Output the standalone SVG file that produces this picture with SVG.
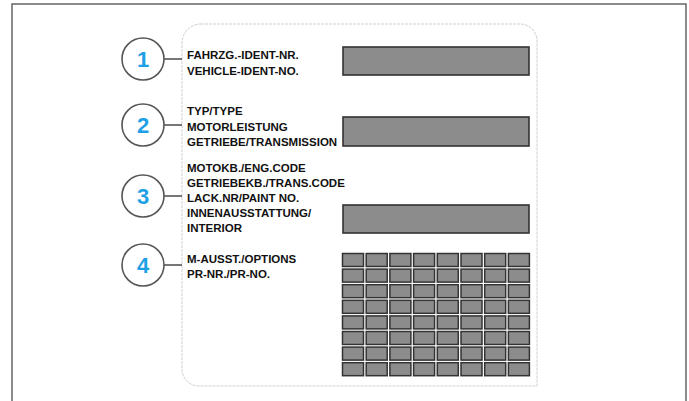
<svg xmlns="http://www.w3.org/2000/svg" width="689" height="401" viewBox="0 0 689 401">
<defs>
<style>
.frame{fill:none;stroke:#666;stroke-width:1.5}
.card{fill:#fff;stroke:#cfcfcf;stroke-width:1;stroke-dasharray:3 1}
.bar{fill:#8c8c8c;stroke:#333;stroke-width:1.6}
.cell{fill:#8c8c8c;stroke:#333;stroke-width:1.5}
.circ{fill:#fff;stroke:#555;stroke-width:1.6}
.conn{stroke:#555;stroke-width:1.6;fill:none}
.num{font-family:"Liberation Sans",Arial,sans-serif;font-weight:bold;font-size:22px;fill:#1ea0e6;text-anchor:middle}
.lbl{font-family:"Liberation Sans",Arial,sans-serif;font-weight:bold;font-size:11.5px;fill:#111}
</style>
</defs>
<rect width="689" height="401" fill="#fff"/>
<path class="frame" d="M12,401 V4 H686 V401"/>
<path class="card" d="M201,24 H520 A17,17 0 0 1 537,41 V386 H199 A17,17 0 0 1 182,369 V43 A19,19 0 0 1 201,24 Z"/>
<g id="fields">
<rect class="bar" x="343" y="47" width="186" height="28"/>
<rect class="bar" x="343" y="117" width="186" height="29"/>
<rect class="bar" x="343" y="205" width="186" height="28"/>
</g>
<g id="grid">
<rect class="cell" x="342.5" y="253.5" width="21" height="13"/><rect class="cell" x="366.2" y="253.5" width="21" height="13"/><rect class="cell" x="389.9" y="253.5" width="21" height="13"/><rect class="cell" x="413.6" y="253.5" width="21" height="13"/><rect class="cell" x="437.3" y="253.5" width="21" height="13"/><rect class="cell" x="461" y="253.5" width="21" height="13"/><rect class="cell" x="484.7" y="253.5" width="21" height="13"/><rect class="cell" x="508.4" y="253.5" width="21" height="13"/>
<rect class="cell" x="342.5" y="269.1" width="21" height="13"/><rect class="cell" x="366.2" y="269.1" width="21" height="13"/><rect class="cell" x="389.9" y="269.1" width="21" height="13"/><rect class="cell" x="413.6" y="269.1" width="21" height="13"/><rect class="cell" x="437.3" y="269.1" width="21" height="13"/><rect class="cell" x="461" y="269.1" width="21" height="13"/><rect class="cell" x="484.7" y="269.1" width="21" height="13"/><rect class="cell" x="508.4" y="269.1" width="21" height="13"/>
<rect class="cell" x="342.5" y="284.7" width="21" height="13"/><rect class="cell" x="366.2" y="284.7" width="21" height="13"/><rect class="cell" x="389.9" y="284.7" width="21" height="13"/><rect class="cell" x="413.6" y="284.7" width="21" height="13"/><rect class="cell" x="437.3" y="284.7" width="21" height="13"/><rect class="cell" x="461" y="284.7" width="21" height="13"/><rect class="cell" x="484.7" y="284.7" width="21" height="13"/><rect class="cell" x="508.4" y="284.7" width="21" height="13"/>
<rect class="cell" x="342.5" y="300.3" width="21" height="13"/><rect class="cell" x="366.2" y="300.3" width="21" height="13"/><rect class="cell" x="389.9" y="300.3" width="21" height="13"/><rect class="cell" x="413.6" y="300.3" width="21" height="13"/><rect class="cell" x="437.3" y="300.3" width="21" height="13"/><rect class="cell" x="461" y="300.3" width="21" height="13"/><rect class="cell" x="484.7" y="300.3" width="21" height="13"/><rect class="cell" x="508.4" y="300.3" width="21" height="13"/>
<rect class="cell" x="342.5" y="315.9" width="21" height="13"/><rect class="cell" x="366.2" y="315.9" width="21" height="13"/><rect class="cell" x="389.9" y="315.9" width="21" height="13"/><rect class="cell" x="413.6" y="315.9" width="21" height="13"/><rect class="cell" x="437.3" y="315.9" width="21" height="13"/><rect class="cell" x="461" y="315.9" width="21" height="13"/><rect class="cell" x="484.7" y="315.9" width="21" height="13"/><rect class="cell" x="508.4" y="315.9" width="21" height="13"/>
<rect class="cell" x="342.5" y="331.5" width="21" height="13"/><rect class="cell" x="366.2" y="331.5" width="21" height="13"/><rect class="cell" x="389.9" y="331.5" width="21" height="13"/><rect class="cell" x="413.6" y="331.5" width="21" height="13"/><rect class="cell" x="437.3" y="331.5" width="21" height="13"/><rect class="cell" x="461" y="331.5" width="21" height="13"/><rect class="cell" x="484.7" y="331.5" width="21" height="13"/><rect class="cell" x="508.4" y="331.5" width="21" height="13"/>
<rect class="cell" x="342.5" y="347.1" width="21" height="13"/><rect class="cell" x="366.2" y="347.1" width="21" height="13"/><rect class="cell" x="389.9" y="347.1" width="21" height="13"/><rect class="cell" x="413.6" y="347.1" width="21" height="13"/><rect class="cell" x="437.3" y="347.1" width="21" height="13"/><rect class="cell" x="461" y="347.1" width="21" height="13"/><rect class="cell" x="484.7" y="347.1" width="21" height="13"/><rect class="cell" x="508.4" y="347.1" width="21" height="13"/>
<rect class="cell" x="342.5" y="362.7" width="21" height="13"/><rect class="cell" x="366.2" y="362.7" width="21" height="13"/><rect class="cell" x="389.9" y="362.7" width="21" height="13"/><rect class="cell" x="413.6" y="362.7" width="21" height="13"/><rect class="cell" x="437.3" y="362.7" width="21" height="13"/><rect class="cell" x="461" y="362.7" width="21" height="13"/><rect class="cell" x="484.7" y="362.7" width="21" height="13"/><rect class="cell" x="508.4" y="362.7" width="21" height="13"/>
</g>
<g id="connectors">
<line class="conn" x1="164" y1="59" x2="182" y2="59"/>
<line class="conn" x1="164" y1="125" x2="182" y2="125"/>
<line class="conn" x1="164" y1="196" x2="182" y2="196"/>
<line class="conn" x1="164" y1="265" x2="182" y2="265"/>
</g>
<g id="node1">
<circle class="circ" cx="143" cy="59" r="21"/>
<text class="num" x="143" y="67">1</text>
<text class="lbl" x="187" y="59">FAHRZG.-IDENT-NR.</text>
<text class="lbl" x="187" y="75">VEHICLE-IDENT-NO.</text>
</g>
<g id="node2">
<circle class="circ" cx="143" cy="125" r="21"/>
<text class="num" x="143" y="133">2</text>
<text class="lbl" x="187" y="115">TYP/TYPE</text>
<text class="lbl" x="187" y="131">MOTORLEISTUNG</text>
<text class="lbl" x="187" y="146">GETRIEBE/TRANSMISSION</text>
</g>
<g id="node3">
<circle class="circ" cx="143" cy="196" r="21"/>
<text class="num" x="143" y="204">3</text>
<text class="lbl" x="187" y="172">MOTOKB./ENG.CODE</text>
<text class="lbl" x="187" y="187">GETRIEBEKB./TRANS.CODE</text>
<text class="lbl" x="187" y="202">LACK.NR/PAINT NO.</text>
<text class="lbl" x="187" y="217">INNENAUSSTATTUNG/</text>
<text class="lbl" x="187" y="232">INTERIOR</text>
</g>
<g id="node4">
<circle class="circ" cx="143" cy="265" r="21"/>
<text class="num" x="143" y="273">4</text>
<text class="lbl" x="187" y="263">M-AUSST./OPTIONS</text>
<text class="lbl" x="187" y="278">PR-NR./PR-NO.</text>
</g>
</svg>
